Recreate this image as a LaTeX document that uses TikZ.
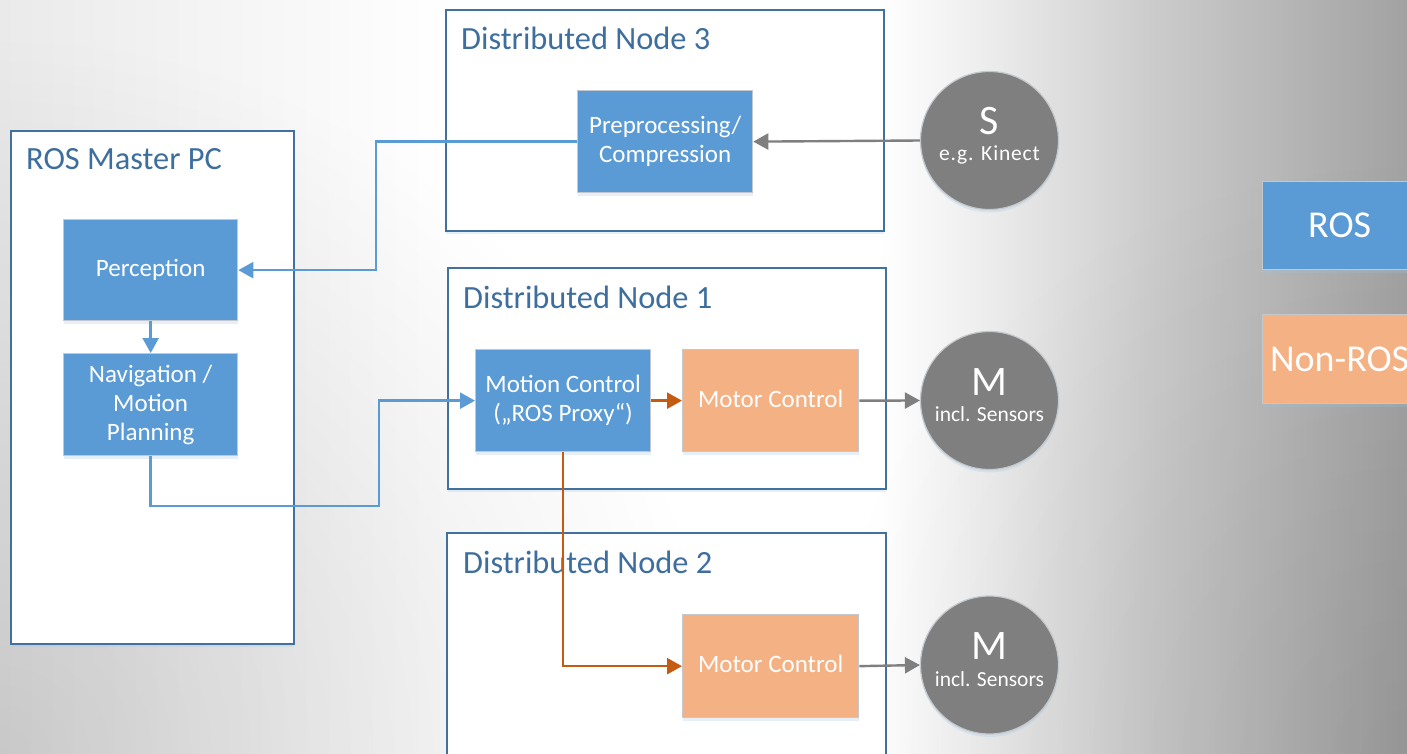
\documentclass[tikz,border=0pt]{standalone}
\usepackage{fontspec}
\setmainfont{Carlito}
\usetikzlibrary{arrows.meta,shadows,calc,fadings}
\definecolor{rosblue}{HTML}{5B9BD5}
\definecolor{nonros}{HTML}{F4B183}
\definecolor{grpline}{HTML}{41719C}
\definecolor{titlec}{HTML}{3E6E9E}
\definecolor{orangec}{HTML}{C55A11}
\definecolor{grayc}{HTML}{7F7F7F}
\definecolor{edgec}{HTML}{C4C8CC}
\definecolor{bgA}{HTML}{EAEAEA}
\definecolor{bgB}{HTML}{F6F6F6}
\definecolor{bgC}{HTML}{EAEAEA}
\definecolor{bgD}{HTML}{CCCCCC}
\definecolor{bgE}{HTML}{A2A2A2}
\newcommand\boxstrut{\rule[-5pt]{0pt}{23pt}}
\tikzfading[name=blobfade, inner color=transparent!0, outer color=transparent!100]
\tikzset{
  grpbox/.style={draw=grpline, line width=1.8pt, fill=white, anchor=north west, inner sep=0pt,
    drop shadow={shadow xshift=0pt, shadow yshift=-3pt, opacity=0.25, fill=rosblue!60}},
  grptitle/.style={anchor=base west, text=titlec, font=\fontsize{32.4}{36}\selectfont, inner sep=0pt},
  rosbox/.style={draw=edgec, line width=1.3pt, fill=rosblue, anchor=north west, inner sep=0pt,
    text=white, align=center, font=\fontsize{25}{29}\selectfont,
    drop shadow={shadow xshift=0pt, shadow yshift=-3pt, opacity=0.25, fill=rosblue!60}},
  nrbox/.style={rosbox, fill=nonros},
  legbox/.style={rosbox, font=\fontsize{38}{40}\selectfont},
  circ/.style={circle, draw=edgec, line width=1.2pt, fill=grayc, minimum size=138pt, inner sep=0pt,
    drop shadow={shadow xshift=0pt, shadow yshift=-3pt, opacity=0.25, fill=rosblue!60}},
  bigl/.style={anchor=base, text=white, font=\fontsize{42}{42}\selectfont, inner sep=0pt},
  smalll/.style={anchor=base, text=white, font=\fontsize{21.5}{24}\selectfont, inner sep=0pt},
  arr/.style={-{Triangle[length=15pt,width=16pt]}},
  bluecon/.style={draw=rosblue, line width=2.4pt, arr},
  orcon/.style={draw=orangec, line width=2.4pt, arr},
  graycon/.style={draw=grayc, line width=2.4pt, arr},
}
\begin{document}
\begin{tikzpicture}[x=1pt,y=-1pt]
\useasboundingbox (0,0) rectangle (1407,754);
\clip (0,0) rectangle (1407,754);
% background
\shade[left color=bgA, right color=bgB] (0,0) rectangle (251,754);
\shade[left color=bgB, right color=white] (250,0) rectangle (451,754);
\fill[white] (450,0) rectangle (881,754);
\shade[left color=white, right color=bgC] (880,0) rectangle (1001,754);
\shade[left color=bgC, right color=bgD] (1000,0) rectangle (1151,754);
\shade[left color=bgD, right color=bgE] (1150,0) rectangle (1407,754);
\fill[black, opacity=0.14, path fading=blobfade] (0,754) circle (720);
\fill[black, opacity=0.08, path fading=blobfade] (1407,754) circle (600);

% group boxes
\node[grpbox, minimum width=283pt, minimum height=513pt] (master) at (10,130) {};
\node[grptitle] (mastert) at (26,170) {ROS Master PC};
\node[grpbox, minimum width=438pt, minimum height=221pt] (dn3) at (445,9) {};
\node[grptitle] (dn3t) at (461,50) {Distributed Node 3};
\node[grpbox, minimum width=438pt, minimum height=221pt] (dn1) at (447,267) {};
\node[grptitle] (dn1t) at (463,308) {Distributed Node 1};
\node[grpbox, minimum width=439pt, minimum height=240pt] (dn2) at (446,532) {};
\node[grptitle] (dn2t) at (463,573) {Distributed Node 2};

% inner boxes
\node[rosbox, minimum width=174pt, minimum height=101pt] (perc) at (63,219) {\boxstrut Perception};
\node[rosbox, minimum width=174pt, minimum height=102pt] (nav) at (63,353) {\boxstrut Navigation /\\Motion\\\boxstrut Planning};
\node[rosbox, minimum width=175pt, minimum height=102pt] (pre) at (577,90) {\boxstrut Preprocessing/\\\boxstrut Compression};
\node[rosbox, minimum width=175pt, minimum height=102pt] (mc) at (475,349) {\boxstrut Motion Control\\\boxstrut („ROS Proxy“)};
\node[nrbox, minimum width=176pt, minimum height=102pt] (mot1) at (682,349) {\boxstrut Motor Control};
\node[nrbox, minimum width=176pt, minimum height=103pt] (mot2) at (682,614) {\boxstrut Motor Control};

% circles
\node[circ] (s) at (989.5,140.5) {};
\node[bigl] (sl) at ($(s.center)+(0,-5.5)$) {S};
\node[smalll, font=\fontsize{21.5}{24}\selectfont\addfontfeature{LetterSpace=4}] (ss) at ($(s.center)+(0,20.5)$) {e.g. Kinect};
\node[circ] (m1) at (989.5,400.5) {};
\node[bigl] (m1l) at ($(m1.center)+(0,-5.5)$) {M};
\node[smalll] (m1s) at ($(m1.center)+(0,21)$) {incl. Sensors};
\node[circ] (m2) at (989.5,665) {};
\node[bigl] (m2l) at ($(m2.center)+(0,-5.5)$) {M};
\node[smalll] (m2s) at ($(m2.center)+(0,21)$) {incl. Sensors};

% legend
\node[legbox, minimum width=154pt, minimum height=88pt] (legros) at (1262,181) {ROS};
\node[legbox, fill=nonros, minimum width=154pt, minimum height=89pt] (legnr) at (1262,314) {Non-ROS};

% connectors
\draw[bluecon] (pre.west) -- ++(-201,0) |- (perc.east);
\draw[bluecon] (perc.south) -- (nav.north);
\draw[bluecon] (nav.south) |- (379,506) |- (mc.west);
\draw[orcon] (mc.east) -- (mot1.west);
\draw[orcon] (mc.south) |- (mot2.west);
\draw[graycon] (s.west) -- (pre.east);
\draw[graycon] (mot1.east) -- (m1.west);
\draw[graycon] (mot2.east) -- (m2.west);
\end{tikzpicture}
\end{document}
